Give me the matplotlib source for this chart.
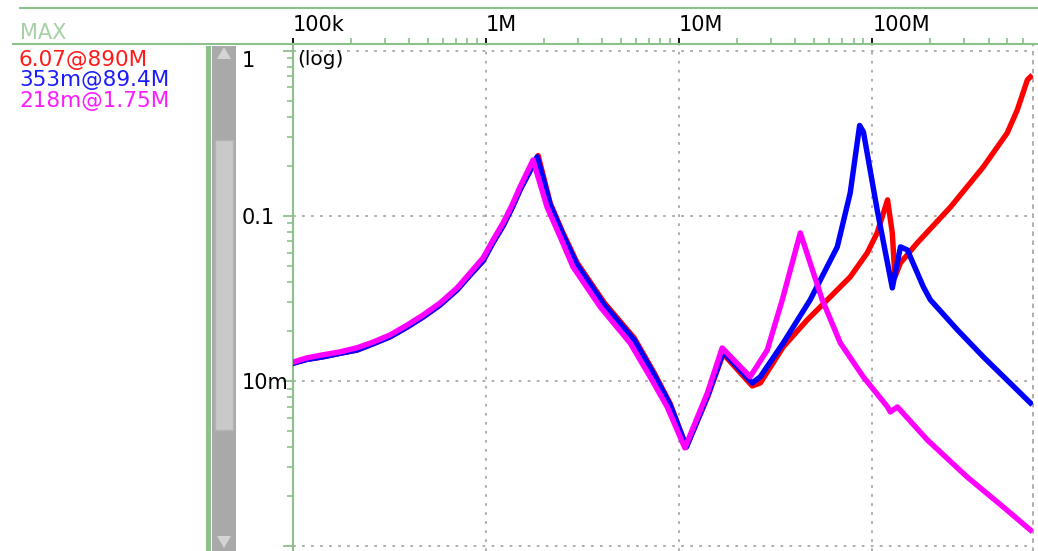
import numpy as np
import matplotlib
matplotlib.use("Agg")
import matplotlib.pyplot as plt
from matplotlib.patches import Rectangle, Polygon
from matplotlib.lines import Line2D
from matplotlib.ticker import FixedLocator, LogLocator, NullFormatter

# =====================================================
# Data (freq in Hz, value in units)
# =====================================================
freq_mag = [1.00e5, 1.18e5, 1.43e5, 1.75e5, 2.15e5, 2.60e5, 3.18e5, 3.90e5, 4.72e5,
            5.78e5, 7.07e5, 8.26e5, 9.65e5, 1.087e6, 1.225e6, 1.364e6, 1.50e6,
            1.75e6, 2.07e6, 2.42e6, 2.82e6, 3.90e6, 5.57e6, 7.07e6, 8.67e6, 1.07e7,
            1.40e7, 1.67e7, 2.33e7, 2.86e7, 3.42e7, 4.24e7, 5.51e7, 6.83e7, 8.98e7,
            1.20e8, 1.24e8, 1.35e8, 1.93e8, 3.10e8, 4.78e8, 6.59e8]
val_mag = [13.0e-3, 13.8e-3, 14.4e-3, 15.0e-3, 15.9e-3, 17.2e-3, 19.0e-3, 21.8e-3, 25.1e-3,
           29.7e-3, 36.6e-3, 45.1e-3, 55.7e-3, 71.5e-3, 90.7e-3, 116.6e-3, 150e-3,
           218e-3, 113e-3, 74.6e-3, 49.1e-3, 28.1e-3, 17.0e-3, 10.6e-3, 6.96e-3, 3.93e-3,
           8.46e-3, 15.85e-3, 10.6e-3, 15.4e-3, 31.0e-3, 78.9e-3, 31.0e-3, 17.0e-3, 10.6e-3,
           6.96e-3, 6.49e-3, 6.96e-3, 4.39e-3, 2.62e-3, 1.72e-3, 1.25e-3]

freq_blue = [1.00e5, 1.18e5, 1.43e5, 1.75e5, 2.15e5, 2.60e5, 3.18e5, 3.90e5, 4.72e5,
             5.78e5, 7.07e5, 8.26e5, 9.65e5, 1.087e6, 1.225e6, 1.364e6, 1.50e6,
             1.84e6, 2.15e6, 2.50e6, 2.96e6, 4.09e6, 5.85e6, 7.42e6, 8.98e6, 1.09e7,
             1.41e7, 1.69e7, 2.39e7, 2.63e7, 3.46e7, 4.77e7, 6.59e7, 7.69e7, 8.60e7,
             9.00e7, 1.06e8, 1.27e8, 1.40e8, 1.52e8, 1.84e8, 2.00e8, 2.76e8, 3.76e8,
             5.00e8, 6.59e8]
val_blue = [12.8e-3, 13.5e-3, 14.0e-3, 14.7e-3, 15.4e-3, 16.8e-3, 18.5e-3, 21.2e-3, 24.4e-3,
            28.9e-3, 35.6e-3, 43.8e-3, 53.4e-3, 69.0e-3, 87.0e-3, 112e-3, 143.8e-3,
            228e-3, 116.6e-3, 76.7e-3, 50.5e-3, 28.9e-3, 17.7e-3, 10.9e-3, 7.15e-3, 3.98e-3,
            8.23e-3, 15.0e-3, 9.72e-3, 10.6e-3, 17.0e-3, 31.0e-3, 64.9e-3, 138e-3, 353e-3,
            323e-3, 109e-3, 36.6e-3, 64.9e-3, 62.2e-3, 37.1e-3, 31.0e-3, 20.4e-3, 14.0e-3,
            10.1e-3, 7.36e-3]

freq_red = [1.00e5, 1.18e5, 1.43e5, 1.75e5, 2.15e5, 2.60e5, 3.18e5, 3.90e5, 4.72e5,
            5.78e5, 7.07e5, 8.26e5, 9.65e5, 1.087e6, 1.225e6, 1.364e6, 1.50e6,
            1.86e6, 2.15e6, 2.50e6, 2.96e6, 4.09e6, 5.85e6, 7.42e6, 8.98e6, 1.09e7,
            1.41e7, 1.69e7, 2.39e7, 2.63e7, 3.46e7, 4.60e7, 5.85e7, 7.69e7, 9.42e7,
            1.06e8, 1.20e8, 1.27e8, 1.31e8, 1.40e8, 1.71e8, 2.54e8, 3.76e8, 5.00e8,
            5.64e8, 6.36e8, 6.59e8]
val_red = [12.8e-3, 13.5e-3, 14.0e-3, 14.7e-3, 15.4e-3, 16.8e-3, 18.5e-3, 21.2e-3, 24.4e-3,
           28.9e-3, 35.6e-3, 43.8e-3, 53.4e-3, 69.0e-3, 87.0e-3, 112e-3, 143.8e-3,
           232e-3, 119e-3, 79e-3, 52e-3, 29.8e-3, 18.2e-3, 11.2e-3, 7.3e-3, 3.98e-3,
           8.1e-3, 14.6e-3, 9.33e-3, 9.72e-3, 16.1e-3, 23.4e-3, 31.0e-3, 42.7e-3, 59.7e-3,
           78.9e-3, 125e-3, 78.9e-3, 42.7e-3, 51.9e-3, 68.6e-3, 113e-3, 198e-3, 318e-3,
           439e-3, 667e-3, 695e-3]

x_ticks = [1e5, 1e6, 1e7, 1e8]
x_labels = ["100k", "1M", "10M", "100M"]
y_ticks = [1e-3, 1e-2, 1e-1, 1.0]
y_labels = ["", "10m", "0.1", "1"]

max_labels = ["6.07@890M", "353m@89.4M", "218m@1.75M"]
max_colors = ["#ff1a1a", "#1a1aff", "#ff1aff"]

# =====================================================
# Layout (pixel based, 1038 x 551)
# =====================================================
W, H = 1038, 551
GREEN = "#8cc08c"
fig = plt.figure(figsize=(W / 100, H / 100), dpi=100)

def fx(x):
    return x / W

def fy(y):
    return 1 - y / H

ax = fig.add_axes([fx(293), 0, (1033 - 293) / W, (H - 44) / H])
ax.set_xscale("log")
ax.set_yscale("log")
ax.set_xlim(1e5, 6.8e8)
ax.set_ylim(0.933e-3, 1.10)

ax.plot(freq_red, val_red, color="#ff0000", lw=3.9, zorder=3)
ax.plot(freq_blue, val_blue, color="#0000ff", lw=3.9, zorder=4)
ax.plot(freq_mag, val_mag, color="#ff00ff", lw=3.9, zorder=5)

# ticks / grid
ax.xaxis.tick_top()
ax.xaxis.set_major_locator(FixedLocator(x_ticks))
ax.set_xticklabels(x_labels)
ax.xaxis.set_minor_locator(LogLocator(base=10, subs=np.arange(2, 10)))
ax.xaxis.set_minor_formatter(NullFormatter())
ax.tick_params(axis="x", which="major", length=4.5, width=1.3, color="black",
               labelsize=15, pad=2)
ax.tick_params(axis="x", which="minor", length=4, width=1.2, color=GREEN)
for lbl in ax.get_xticklabels():
    lbl.set_ha("left")

ax.yaxis.set_major_locator(FixedLocator(y_ticks))
ax.set_yticklabels(y_labels)
ax.yaxis.set_minor_locator(LogLocator(base=10, subs=np.arange(2, 10)))
ax.yaxis.set_minor_formatter(NullFormatter())
ax.tick_params(axis="y", which="major", length=7, width=1.3, color=GREEN,
               labelsize=15, pad=30)
ax.tick_params(axis="y", which="minor", length=4.3, width=1.2, color=GREEN)
for lbl in ax.get_yticklabels():
    lbl.set_ha("left")
ax.get_yticklabels()[-1].set_va("top")

ax.grid(True, which="major", color="#a8a8a8", lw=1.3, ls=(0, (1.5, 3.5)))

for s in ["top", "bottom"]:
    ax.spines[s].set_visible(False)
ax.spines["left"].set_color(GREEN)
ax.spines["left"].set_linewidth(1.5)
ax.spines["right"].set_color("#a8a8a8")
ax.spines["right"].set_linestyle((0, (1.5, 3.5)))
ax.spines["right"].set_linewidth(1.3)

ax.annotate("(log)", xy=(0, 1), xycoords="axes fraction", xytext=(3, -4),
            textcoords="offset points", va="top", ha="left", fontsize=14.5, zorder=6)

# frame lines
fig.add_artist(Line2D([fx(20), 1], [fy(8), fy(8)], color=GREEN, lw=1.5))
fig.add_artist(Line2D([fx(13), 1], [fy(44), fy(44)], color=GREEN, lw=1.5))

fig.text(fx(20), fy(33), "MAX", color="#a6d0a6", fontsize=15, va="center", ha="left")
for i, (t, c) in enumerate(zip(max_labels, max_colors)):
    fig.text(fx(19), fy(60 + 20.5 * i), t, color=c, fontsize=15.5, va="center", ha="left")

# scrollbar at the left of the plot
fig.add_artist(Rectangle((fx(206), 0), 5 / W, fy(46), color=GREEN, lw=0))
fig.add_artist(Rectangle((fx(212), 0), 24 / W, fy(46), color="#a9a9a9", lw=0))
fig.add_artist(Rectangle((fx(215), fy(430)), 18 / W, 290 / H, facecolor="#c9c9c9",
                         edgecolor="#b4b4b4", lw=1))
fig.add_artist(Polygon([(fx(217), fy(59)), (fx(231), fy(59)), (fx(224), fy(47))],
                       closed=True, color="#d4d4d4", lw=0))
fig.add_artist(Polygon([(fx(217), fy(536)), (fx(231), fy(536)), (fx(224), fy(548))],
                       closed=True, color="#d4d4d4", lw=0))

fig.savefig("out.png", dpi=100)
